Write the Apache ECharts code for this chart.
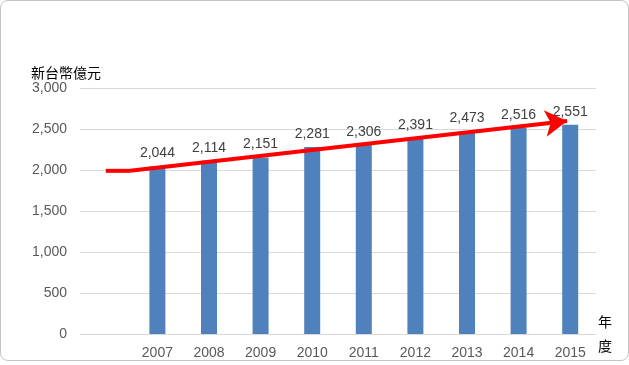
<!DOCTYPE html>
<html>
<head>
<meta charset="utf-8">
<script src="https://cdn.jsdelivr.net/npm/echarts@6/dist/echarts.min.js"></script>
<style>
html,body{margin:0;padding:0;background:#fff;}
#frame{position:absolute;left:0;top:0;width:627px;height:359px;border:1px solid #c4c4c4;border-radius:8px;background:#fff;}
#chart{position:absolute;left:0;top:0;width:629px;height:365px;}
</style>
</head>
<body>
<div id="frame"></div>
<div id="chart"></div>
<script>
const categories = ['', '2007', '2008', '2009', '2010', '2011', '2012', '2013', '2014', '2015'];
const values = [null, 2044, 2114, 2151, 2281, 2306, 2391, 2473, 2516, 2551];
const yTicks = {min: 0, max: 3000, interval: 500};
// trend arrow: [category position, value]
const arrowStart = [0, 1990];
const arrowKnee = [0.47, 1990];
const arrowEnd = [8.94, 2598];

const chart = echarts.init(document.getElementById('chart'), null, {renderer: 'canvas'});
const font = 'Liberation Sans';
chart.setOption({
  animation: false,
  textStyle: {fontFamily: font},
  grid: {left: 80, right: 33, top: 88, bottom: 31, containLabel: false},
  title: {
    text: '新台幣億元', left: 26, top: 61,
    textStyle: {fontFamily: 'Noto Sans CJK TC', fontSize: 14, fontWeight: 'normal', color: '#000'}
  },
  xAxis: [{
    type: 'category', data: categories,
    axisLine: {lineStyle: {color: '#d9d9d9'}},
    axisTick: {show: false},
    axisLabel: {color: '#595959', fontSize: 14, margin: 12, fontFamily: font},
    name: '年\n度', nameLocation: 'end', nameGap: 2,
    nameTextStyle: {fontFamily: 'Noto Sans CJK TC', fontSize: 14, color: '#000', lineHeight: 24, align: 'left', verticalAlign: 'middle'}
  }, {
    type: 'value', min: -0.5, max: 9.5, show: false
  }],
  yAxis: {
    type: 'value', min: yTicks.min, max: yTicks.max, interval: yTicks.interval,
    axisLine: {show: false}, axisTick: {show: false},
    splitLine: {lineStyle: {color: '#d9d9d9'}},
    axisLabel: {color: '#595959', fontSize: 14, margin: 13, fontFamily: font,
      formatter: v => v.toLocaleString('en-US')}
  },
  series: [{
    type: 'bar', data: values, barWidth: 16, itemStyle: {color: '#4f81bd'},
    label: {show: true, position: 'top', distance: 6, color: '#404040', fontSize: 14, fontFamily: font,
      formatter: p => p.value == null ? '' : Number(p.value).toLocaleString('en-US')}
  }, {
    type: 'line', xAxisIndex: 1, data: [arrowStart, arrowKnee], symbol: 'none',
    lineStyle: {color: '#ff0000', width: 4}, silent: true, z: 5,
    markLine: {
      silent: true, symbol: ['none', 'arrow'], symbolSize: [20, 22],
      lineStyle: {color: '#ff0000', width: 4, type: 'solid'},
      label: {show: false},
      data: [[{coord: arrowKnee}, {coord: arrowEnd}]]
    }
  }]
});
</script>
</body>
</html>
